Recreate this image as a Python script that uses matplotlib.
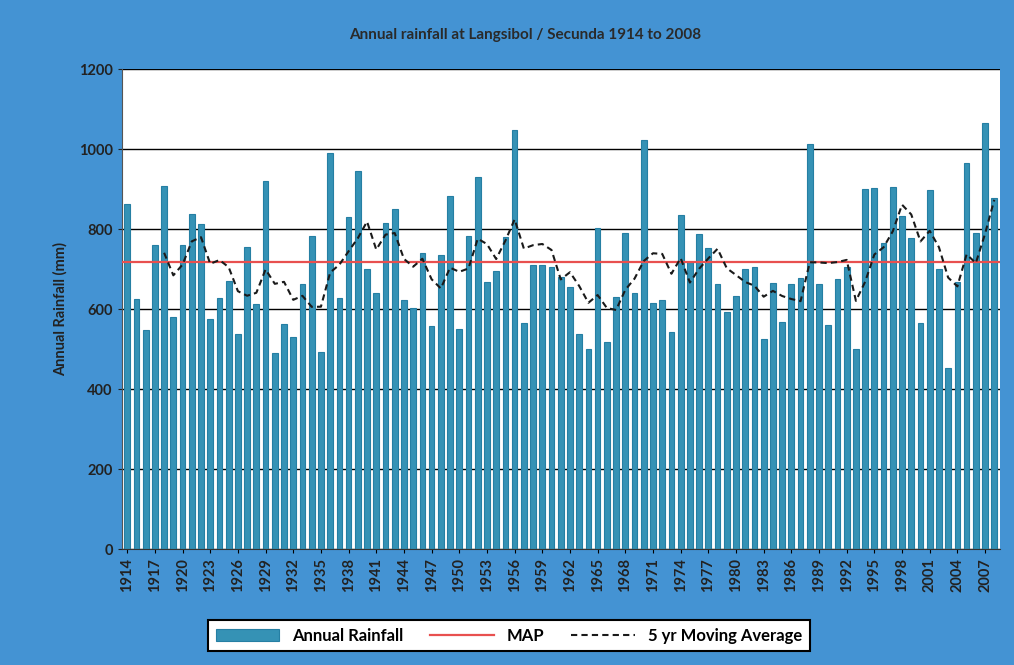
import matplotlib.pyplot as plt
import numpy as np
import pandas as pd

plt.rcParams['font.family'] = ['Lato', 'DejaVu Sans']

# annual rainfall (mm), 1914 - 2008
years = list(range(1914, 2009))
rainfall = [862, 625, 548, 760, 908, 580, 760, 838, 812, 575,
            628, 670, 538, 755, 612, 920, 490, 563, 530, 662,
            782, 492, 990, 628, 830, 945, 700, 640, 815, 850,
            622, 602, 740, 558, 735, 882, 550, 782, 930, 668,
            695, 780, 1048, 565, 710, 710, 705, 680, 655, 538,
            500, 802, 518, 630, 790, 640, 1022, 615, 622, 542,
            835, 717, 787, 752, 662, 592, 632, 700, 705, 525,
            665, 568, 662, 678, 1012, 662, 560, 675, 705, 500,
            900, 902, 765, 905, 832, 778, 565, 898, 700, 452,
            668, 965, 790, 1065, 877]
map_value = 717

df = pd.DataFrame({'year': years, 'rain': rainfall})
df['ma5'] = df['rain'].rolling(5).mean()
x = np.arange(len(df))

fig = plt.figure(figsize=(10.14, 6.65), dpi=100)
fig.patch.set_facecolor('#4493d3')
ax = fig.add_axes([0.120, 0.1744, 0.866, 0.7218])
ax.set_facecolor('white')

bars = ax.bar(x, df['rain'], width=0.62, color='#3592b5', edgecolor='#257fa3',
              linewidth=0.8, zorder=2, label='Annual Rainfall')
map_line, = ax.plot([-0.6, len(df) - 0.4], [map_value, map_value], color='#e8504f',
                    lw=1.6, zorder=3, label='MAP')
ma_line, = ax.plot(x, df['ma5'], color='#1a1a1a', lw=1.5, ls=(0, (3, 2)),
                   zorder=4, label='5 yr Moving Average')

ax.set_xlim(-0.6, len(df) - 0.4)
ax.set_ylim(0, 1200)
ax.set_yticks(range(0, 1201, 200))
ax.yaxis.grid(True, color='black', lw=1.0)
ax.set_axisbelow(True)

tick_pos = x[::3]
ax.set_xticks(tick_pos)
ax.set_xticklabels([str(y) for y in df['year'][::3]], rotation=90,
                   fontsize=10.5, fontweight='bold', color='#222222')
ax.tick_params(axis='y', labelsize=10.5, colors='#222222', length=3)
ax.tick_params(axis='x', length=3)
for lab in ax.get_yticklabels():
    lab.set_fontweight('bold')
for s in ['top', 'right']:
    ax.spines[s].set_visible(False)
ax.spines['left'].set_color('#555555')
ax.spines['bottom'].set_color('#333333')

ax.set_ylabel('Annual Rainfall (mm)', fontsize=10.5, fontweight='bold',
              color='#222222', labelpad=8)
fig.text(0.518, 0.948, 'Annual rainfall at Langsibol / Secunda 1914 to 2008',
         ha='center', va='center', fontsize=11, fontweight='bold', color='#2a2a2a')

leg = fig.legend(handles=[bars, map_line, ma_line],
                 loc='center', bbox_to_anchor=(0.502, 0.044), ncol=3,
                 fontsize=12, frameon=True, fancybox=False, edgecolor='black',
                 framealpha=1.0, facecolor='white',
                 handlelength=3.8, columnspacing=1.6, borderpad=0.45)
leg.get_frame().set_linewidth(1.5)
for t in leg.get_texts():
    t.set_fontweight('bold')

fig.savefig('out.png', dpi=100, facecolor=fig.get_facecolor())
